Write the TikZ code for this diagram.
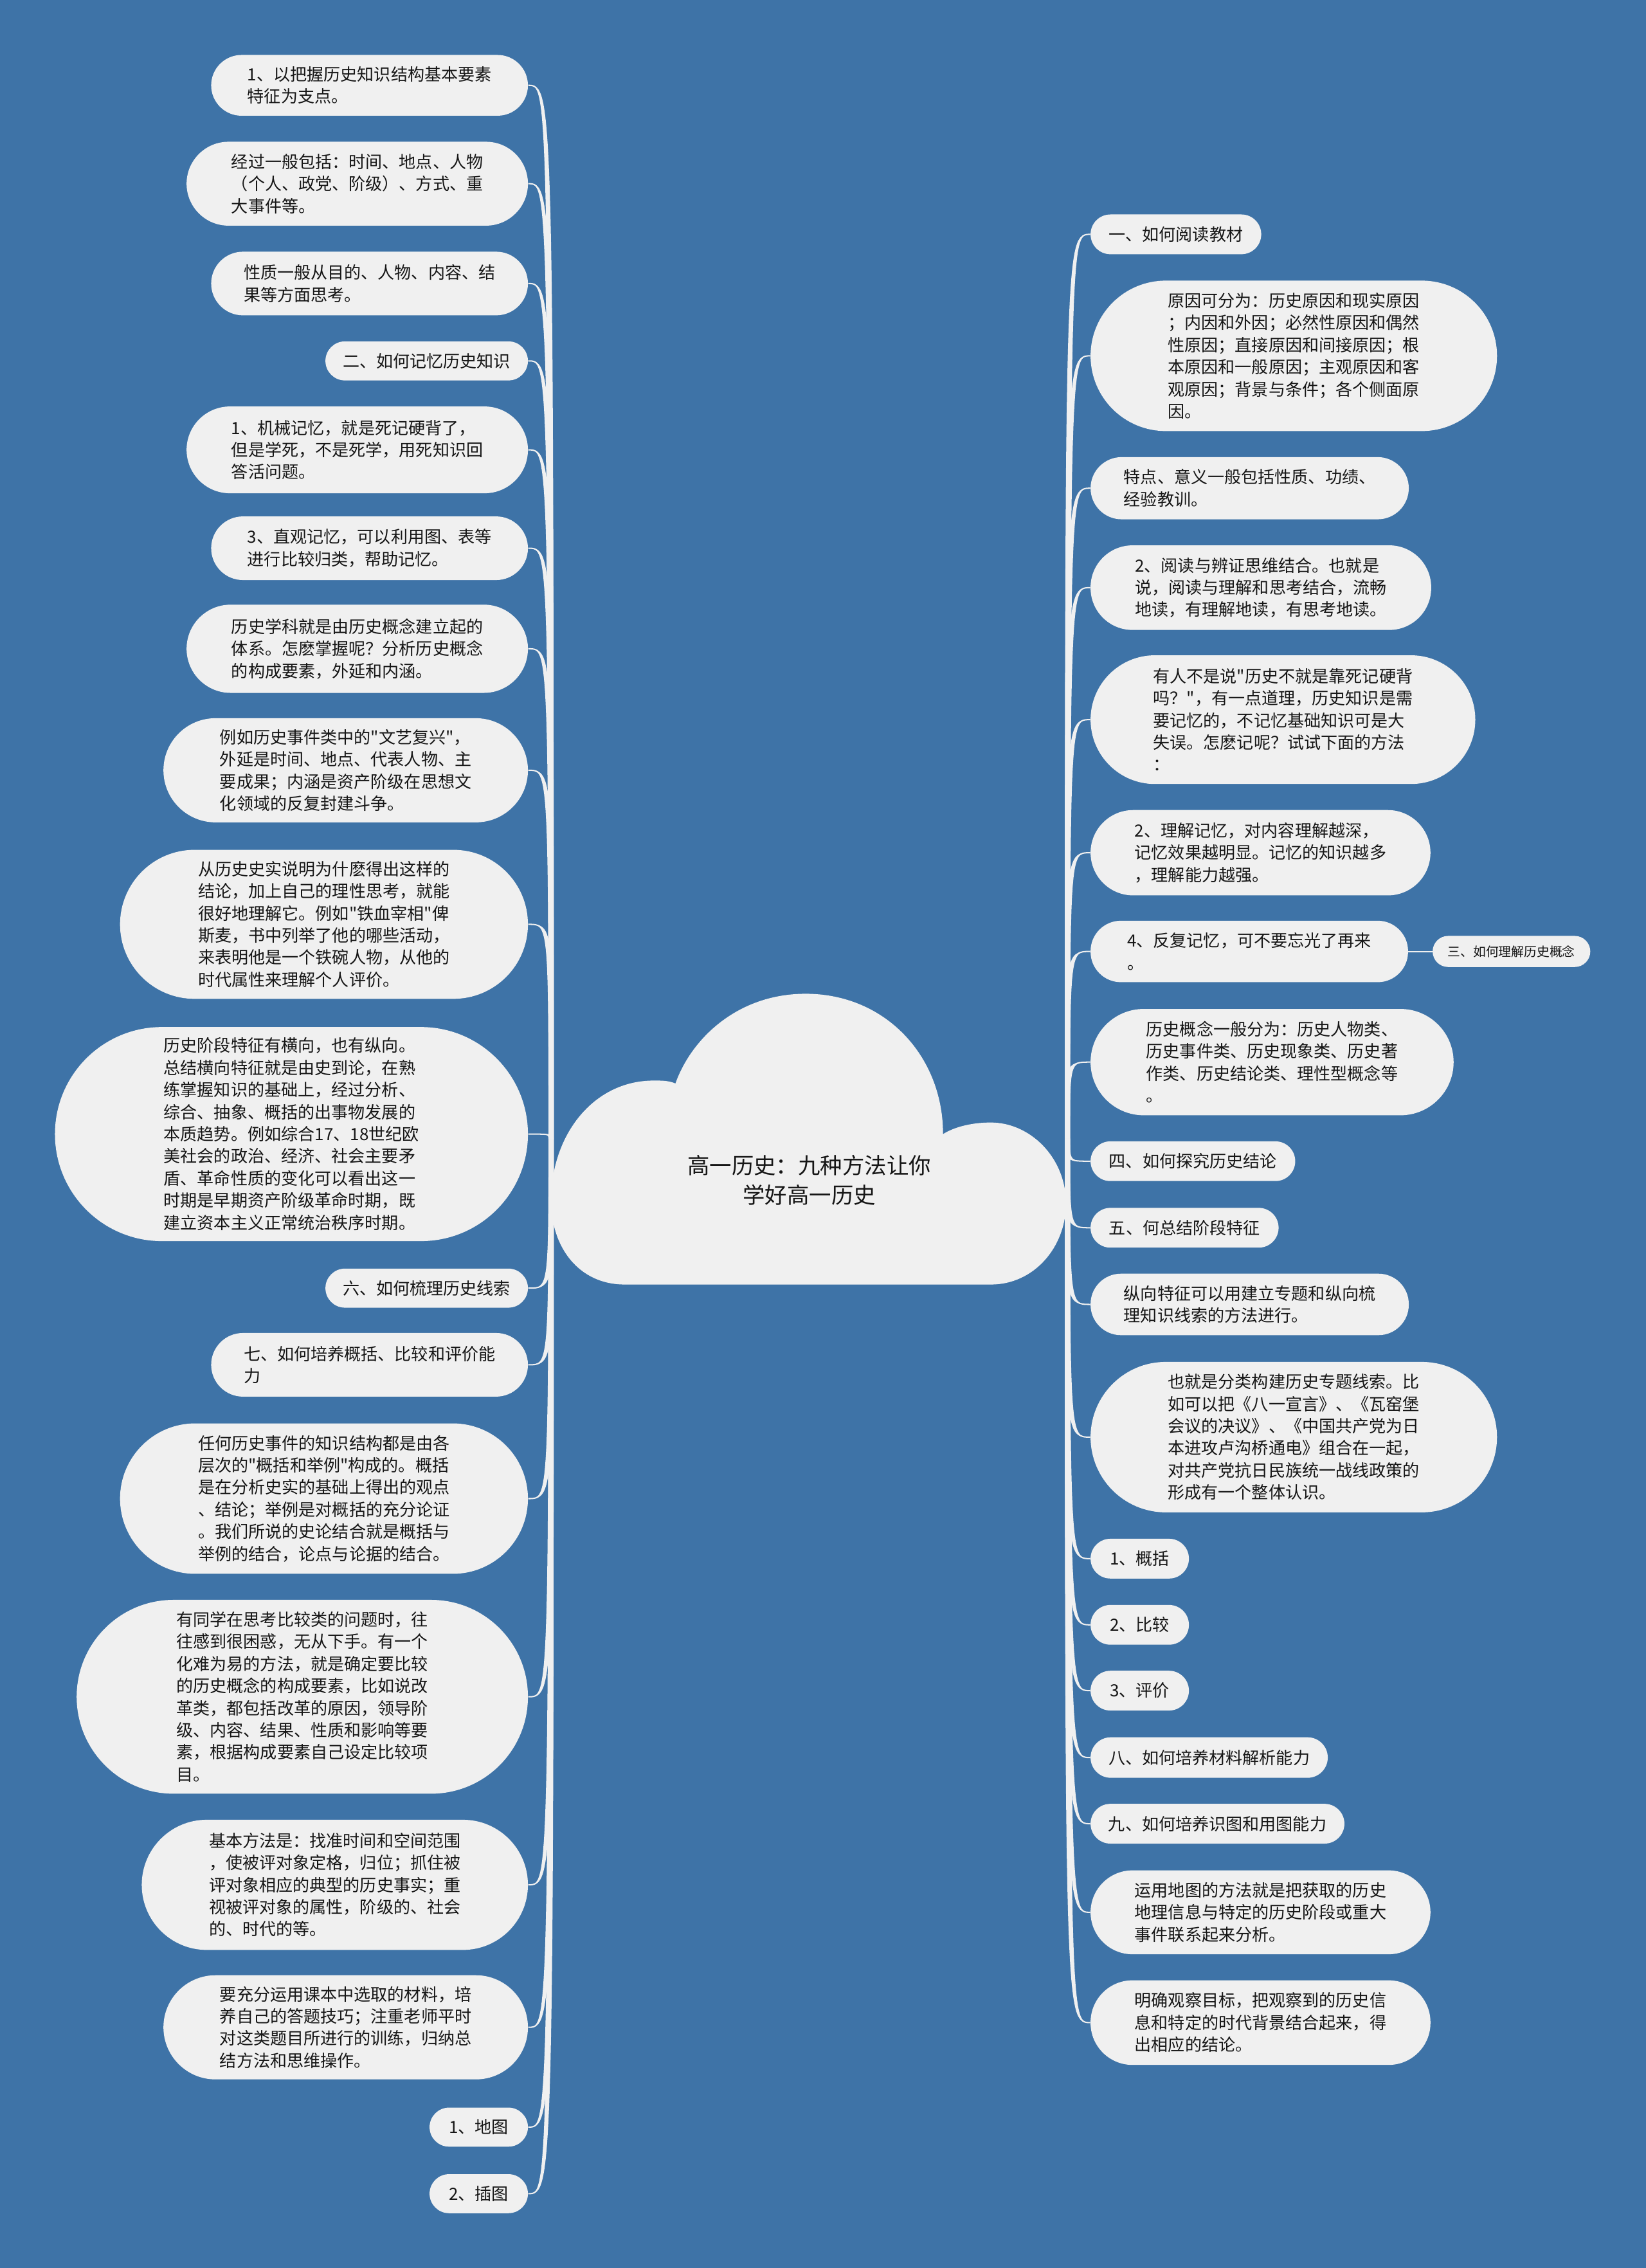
\documentclass[tikz,border=0pt]{standalone}
\usepackage{fontspec}
\newfontfamily\cjk{Noto Sans CJK SC}
\usetikzlibrary{calc}
\definecolor{bg}{RGB}{62,115,167}
\definecolor{nodefill}{RGB}{240,240,240}
\definecolor{txt}{RGB}{22,22,22}
\tikzset{
  nd/.style={fill=nodefill, text=txt, inner sep=0pt, align=left,
    font=\cjk\fontsize{11.6}{15.3}\selectfont},
  bx/.style n args={3}{minimum width=#1, minimum height=#2, rounded corners=#3},
  conn/.style={fill=nodefill},
  connline/.style={draw=nodefill, line width=0.9pt},
}
\newcommand\lconn[1]{%
  \fill[conn] ($(lroot)+(-1.8,0)$) .. controls ($(lroot |- #1.east)+(-1.8,0)$) .. (#1.east)
     .. controls ($(lroot |- #1.east)+(1.8,0)$) .. ($(lroot)+(1.8,0)$) -- cycle;
  \draw[connline] (lroot) .. controls (lroot |- #1.east) .. (#1.east);}
\newcommand\rconn[1]{%
  \fill[conn] ($(rroot)+(-1.8,0)$) .. controls ($(rroot |- #1.west)+(-1.8,0)$) .. (#1.west)
     .. controls ($(rroot |- #1.west)+(1.8,0)$) .. ($(rroot)+(1.8,0)$) -- cycle;
  \draw[connline] (rroot) .. controls (rroot |- #1.west) .. (#1.west);}
\begin{document}
\begin{tikzpicture}[x=1pt,y=-1pt]
\useasboundingbox (0,0) rectangle (1138,1567.9);
\fill[bg] (0,0) rectangle (1138,1567.9);

% central cloud
\fill[nodefill] (432,888) -- (685,888)
  .. controls (715,888) and (737,862) .. (737,832)
  .. controls (737,800) and (712,776) .. (685,776)
  .. controls (672,776) and (660,779) .. (652,784)
  .. controls (652,730) and (612,687) .. (557,687)
  .. controls (510,687) and (478,718) .. (467,749)
  .. controls (462,747) and (458,747) .. (452,747)
  .. controls (410,747) and (381,785) .. (381,830)
  .. controls (381,862) and (400,888) .. (432,888) -- cycle;
\node[text=txt, align=center, inner sep=0pt, font=\cjk\fontsize{15.3}{20.5}\selectfont] (title) at (559.5,816) {高一历史：九种方法让你\\学好高一历史};
\coordinate (lroot) at (381,788);
\coordinate (rroot) at (738,787);

% left nodes
\node[nd,bx={219}{42}{21}] (L1) at (255.5,59) {1、以把握历史知识结构基本要素\\特征为支点。};
\node[nd,bx={236}{58}{29}] (L2) at (247,127) {经过一般包括：时间、地点、人物\\（个人、政党、阶级）、方式、重\\大事件等。};
\node[nd,bx={219}{44}{22}] (L3) at (255.5,196) {性质一般从目的、人物、内容、结\\果等方面思考。};
\node[nd,bx={140}{27}{13.5}] (L4) at (295,249.5) {二、如何记忆历史知识};
\node[nd,bx={236}{60}{30}] (L5) at (247,311) {1、机械记忆，就是死记硬背了，\\但是学死，不是死学，用死知识回\\答活问题。};
\node[nd,bx={219}{44}{22}] (L6) at (255.5,379) {3、直观记忆，可以利用图、表等\\进行比较归类，帮助记忆。};
\node[nd,bx={236}{61}{30.5}] (L7) at (247,448.5) {历史学科就是由历史概念建立起的\\体系。怎麽掌握呢？分析历史概念\\的构成要素，外延和内涵。};
\node[nd,bx={252}{72}{36}] (L8) at (239,532.5) {例如历史事件类中的"文艺复兴"，\\外延是时间、地点、代表人物、主\\要成果；内涵是资产阶级在思想文\\化领域的反复封建斗争。};
\node[nd,bx={282}{103}{51.5}] (L9) at (224,639) {从历史史实说明为什麽得出这样的\\结论，加上自己的理性思考，就能\\很好地理解它。例如"铁血宰相"俾\\斯麦，书中列举了他的哪些活动，\\来表明他是一个铁碗人物，从他的\\时代属性来理解个人评价。};
\node[nd,bx={327}{148}{74}] (L10) at (201.5,784) {历史阶段特征有横向，也有纵向。\\总结横向特征就是由史到论，在熟\\练掌握知识的基础上，经过分析、\\综合、抽象、概括的出事物发展的\\本质趋势。例如综合17、18世纪欧\\美社会的政治、经济、社会主要矛\\盾、革命性质的变化可以看出这一\\时期是早期资产阶级革命时期，既\\建立资本主义正常统治秩序时期。};
\node[nd,bx={140}{27}{13.5}] (L11) at (295,890.5) {六、如何梳理历史线索};
\node[nd,bx={219}{44}{22}] (L12) at (255.5,943.5) {七、如何培养概括、比较和评价能\\力};
\node[nd,bx={282}{104}{52}] (L13) at (224,1036) {任何历史事件的知识结构都是由各\\层次的"概括和举例"构成的。概括\\是在分析史实的基础上得出的观点\\、结论；举例是对概括的充分论证\\。我们所说的史论结合就是概括与\\举例的结合，论点与论据的结合。};
\node[nd,bx={312}{134}{67}] (L14) at (209,1173) {有同学在思考比较类的问题时，往\\往感到很困惑，无从下手。有一个\\化难为易的方法，就是确定要比较\\的历史概念的构成要素，比如说改\\革类，都包括改革的原因，领导阶\\级、内容、结果、性质和影响等要\\素，根据构成要素自己设定比较项\\目。};
\node[nd,bx={267}{90}{45}] (L15) at (231.5,1303) {基本方法是：找准时间和空间范围\\，使被评对象定格，归位；抓住被\\评对象相应的典型的历史事实；重\\视被评对象的属性，阶级的、社会\\的、时代的等。};
\node[nd,bx={252}{72}{36}] (L16) at (239,1401.5) {要充分运用课本中选取的材料，培\\养自己的答题技巧；注重老师平时\\对这类题目所进行的训练，归纳总\\结方法和思维操作。};
\node[nd,bx={68}{27}{13.5}] (L17) at (331,1470.5) {1、地图};
\node[nd,bx={68}{27}{13.5}] (L18) at (331,1516.5) {2、插图};

% right nodes
\node[nd,bx={118}{27.5}{13.75}] (R1) at (813,162) {一、如何阅读教材};
\node[nd,bx={281}{104}{52}] (R2) at (894.5,246) {原因可分为：历史原因和现实原因\\；内因和外因；必然性原因和偶然\\性原因；直接原因和间接原因；根\\本原因和一般原因；主观原因和客\\观原因；背景与条件；各个侧面原\\因。};
\node[nd,bx={220}{43}{21.5}] (R3) at (864,337.5) {特点、意义一般包括性质、功绩、\\经验教训。};
\node[nd,bx={235.5}{58.5}{29}] (R4) at (871.75,406.25) {2、阅读与辨证思维结合。也就是\\说，阅读与理解和思考结合，流畅\\地读，有理解地读，有思考地读。};
\node[nd,bx={266}{89}{44.5}] (R5) at (887,497.5) {有人不是说"历史不就是靠死记硬背\\吗？"，有一点道理，历史知识是需\\要记忆的，不记忆基础知识可是大\\失误。怎麽记呢？试试下面的方法\\：};
\node[nd,bx={235}{59}{29.5}] (R6) at (871.5,589.5) {2、理解记忆，对内容理解越深，\\记忆效果越明显。记忆的知识越多\\，理解能力越强。};
\node[nd,bx={219.5}{42.5}{21}] (R7) at (863.75,657.75) {4、反复记忆，可不要忘光了再来\\。};
\node[nd,bx={109}{21.5}{10.75},font=\cjk\fontsize{8.8}{11}\selectfont] (R7b) at (1045,657.75) {三、如何理解历史概念};
\node[nd,bx={251}{73.5}{36.75}] (R8) at (879.5,734.25) {历史概念一般分为：历史人物类、\\历史事件类、历史现象类、历史著\\作类、历史结论类、理性型概念等\\。};
\node[nd,bx={141.5}{27.5}{13.75}] (R9) at (824.75,802.75) {四、如何探究历史结论};
\node[nd,bx={130}{27.5}{13.75}] (R10) at (819,848.75) {五、何总结阶段特征};
\node[nd,bx={220}{42.5}{21}] (R11) at (864,901.75) {纵向特征可以用建立专题和纵向梳\\理知识线索的方法进行。};
\node[nd,bx={281}{104}{52}] (R12) at (894.5,993.5) {也就是分类构建历史专题线索。比\\如可以把《八一宣言》、《瓦窑堡\\会议的决议》、《中国共产党为日\\本进攻卢沟桥通电》组合在一起，\\对共产党抗日民族统一战线政策的\\形成有一个整体认识。};
\node[nd,bx={68}{27.5}{13.75}] (R13) at (788,1077.5) {1、概括};
\node[nd,bx={68}{27.5}{13.75}] (R14) at (788,1123.25) {2、比较};
\node[nd,bx={68}{27.5}{13.75}] (R15) at (788,1168.75) {3、评价};
\node[nd,bx={164}{28}{14}] (R16) at (836,1215) {八、如何培养材料解析能力};
\node[nd,bx={175.5}{27.5}{13.75}] (R17) at (841.75,1260.75) {九、如何培养识图和用图能力};
\node[nd,bx={235}{58}{29}] (R18) at (871.5,1322) {运用地图的方法就是把获取的历史\\地理信息与特定的历史阶段或重大\\事件联系起来分析。};
\node[nd,bx={235}{58.5}{29}] (R19) at (871.5,1398.25) {明确观察目标，把观察到的历史信\\息和特定的时代背景结合起来，得\\出相应的结论。};

% connectors
\foreach \n in {L1,L2,L3,L4,L5,L6,L7,L8,L9,L10,L11,L12,L13,L14,L15,L16,L17,L18} {\lconn{\n}}
\foreach \n in {R1,R2,R3,R4,R5,R6,R7,R8,R9,R10,R11,R12,R13,R14,R15,R16,R17,R18,R19} {\rconn{\n}}
\draw[connline] (R7.east) -- (R7b.west);
\end{tikzpicture}
\end{document}
